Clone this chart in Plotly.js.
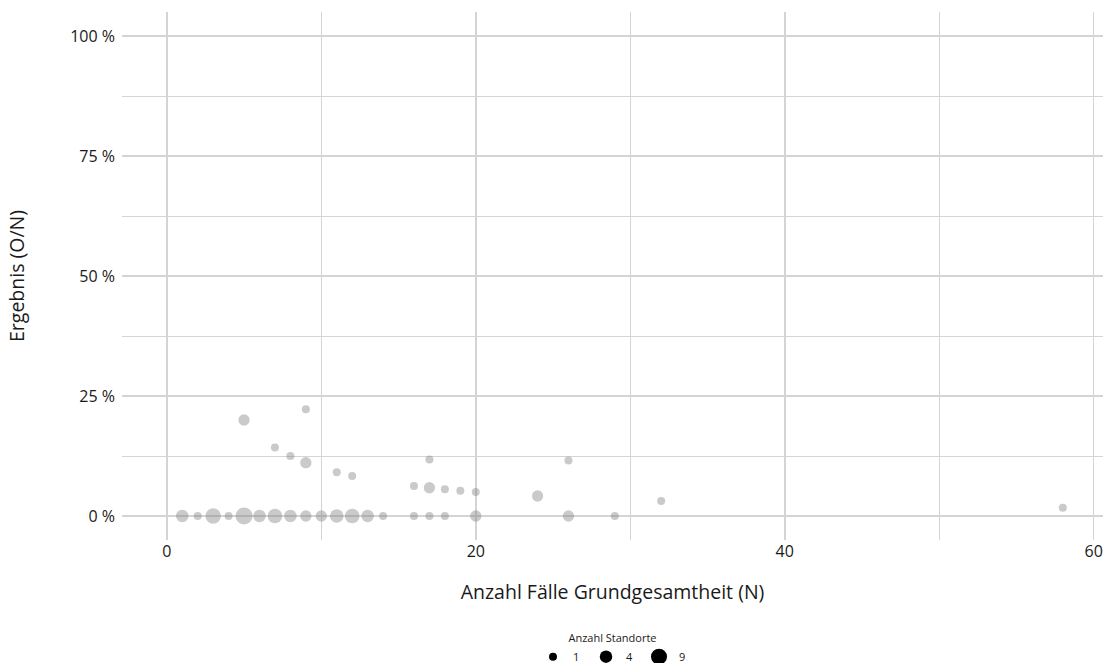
<!DOCTYPE html>
<html>
<head>
<meta charset="utf-8">
<script src="https://cdn.plot.ly/plotly-3.0.1.min.js"></script>
<style>html,body{margin:0;padding:0;background:#fff;}#chart{width:1109px;height:663px;}</style>
</head>
<body>
<div id="chart"></div>
<script>
// N (cases), O (events), number of sites
const caseCounts  = [1,2,3,4,5,6,7,8,9,10,11,12,13,14,16,17,18,20,26,29, 5,7,8,9,9,11,12,16,17,17,18,19,20,24,26,32,58];
const eventCounts = [0,0,0,0,0,0,0,0,0,0,0,0,0,0,0,0,0,0,0,0, 1,1,1,2,1,1,1,1,2,1,1,1,1,1,3,1,1];
const siteCounts  = [4,1,7,1,9,4,6,4,3,3,5,6,4,1,1,1,1,3,3,1, 3,1,1,1,3,1,1,1,1,3,1,1,1,3,1,1,1];
const legendSites = [1,4,9];
const legendTitle = "Anzahl Standorte";
const xTitle = "Anzahl Fälle Grundgesamtheit (N)";
const yTitle = "Ergebnis (O/N)";
const yTickVals = [0,0.25,0.5,0.75,1];
const yTickText = ["0 %","25 %","50 %","75 %","100 %"];
const xTickVals = [0,20,40,60];

const sizeOf = n => 8 + 4.5*(Math.sqrt(n)-1);
const rate = caseCounts.map((n,i)=>eventCounts[i]/n);

const font = "'Open Sans', Lato, sans-serif";
const traces = [{
  type:'scatter', mode:'markers',
  x: caseCounts, y: rate,
  marker:{color:'rgba(128,128,128,0.6)', size: siteCounts.map(sizeOf), line:{width:0}},
  showlegend:false, hoverinfo:'x+y'
}];
legendSites.forEach(s=>{
  traces.push({type:'scatter', mode:'markers', x:[null], y:[null], name:String(s),
    marker:{color:'#000', size:sizeOf(s)}, showlegend:true});
});

const layout = {
  width:1109, height:663,
  margin:{l:122,r:6,t:12,b:123},
  paper_bgcolor:'#fff', plot_bgcolor:'#fff',
  font:{family:font, color:'#1a1a1a', size:15},
  xaxis:{range:[-2.9,60.6], tickvals:xTickVals, ticktext:xTickVals.map(String),
    automargin:false,
    showgrid:true, gridcolor:'#d4d4d4', gridwidth:1.5, zeroline:false, showline:false,
    ticks:'', tickfont:{size:16, color:'#1a1a1a'},
    minor:{tickvals:[10,30,50], showgrid:true, gridcolor:'#d4d4d4', gridwidth:1},
    title:{text:xTitle, font:{size:19.5, color:'#1a1a1a'}, standoff:24}},
  yaxis:{range:[-0.05,1.05], tickvals:yTickVals, ticktext:yTickText,
    automargin:false, ticklabelstandoff:6,
    showgrid:true, gridcolor:'#d4d4d4', gridwidth:1.5, zeroline:false, showline:false,
    ticks:'', tickfont:{size:16, color:'#1a1a1a'},
    minor:{tickvals:[0.125,0.375,0.625,0.875], showgrid:true, gridcolor:'#d4d4d4', gridwidth:1},
    title:{text:yTitle, font:{size:19.5, color:'#1a1a1a'}, standoff:40}},
  legend:{orientation:'h', x:0.5, xanchor:'center', xref:'paper', y:0.053, yref:'container', yanchor:'top',
    title:{text:legendTitle, side:'top center', font:{size:11}},
    font:{size:11}, itemwidth:30, entrywidth:8, itemsizing:'trace', tracegroupgap:0},
  showlegend:true
};
Plotly.newPlot('chart', traces, layout, {displayModeBar:false, staticPlot:true});
</script>
</body>
</html>
